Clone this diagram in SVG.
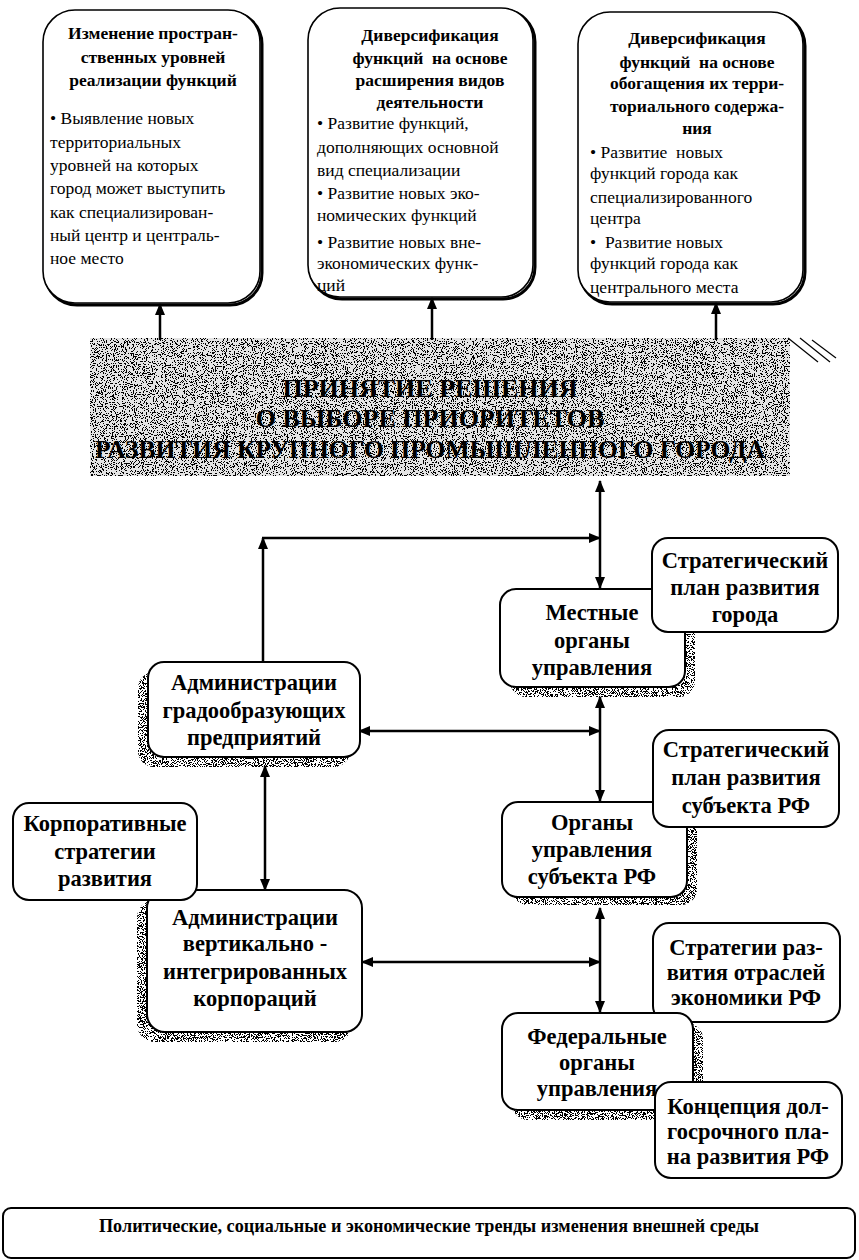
<svg xmlns="http://www.w3.org/2000/svg" width="859" height="1260" viewBox="0 0 859 1260">
<style>
  .box { fill: #fff; stroke: #000; stroke-width: 2; }
  .topbox { fill: #fff; stroke: #000; stroke-width: 1.6; }
  .topshadow { fill: none; stroke: #000; stroke-width: 3; }
  .ttl { font-family: "Liberation Serif", "Times New Roman", serif; font-weight: bold; font-size: 17.5px; fill: #000; text-anchor: middle; }
  .body { font-family: "Liberation Serif", "Times New Roman", serif; font-size: 17.5px; fill: #000; }
  .lbl { font-family: "Liberation Serif", "Times New Roman", serif; font-weight: bold; font-size: 22.5px; fill: #000; text-anchor: middle; }
  .band { font-family: "Liberation Serif", "Times New Roman", serif; font-weight: bold; font-size: 26px; fill: #000; text-anchor: middle; }
  .bot { font-family: "Liberation Serif", "Times New Roman", serif; font-weight: bold; font-size: 18px; fill: #000; text-anchor: middle; }
  .con { fill: none; stroke: #000; stroke-width: 2.5; }
  .shadow { fill: #000; filter: url(#grainDense); }
</style>
<defs>
  <marker id="ah" viewBox="0 0 12 10" refX="11" refY="5" markerWidth="12" markerHeight="10" markerUnits="userSpaceOnUse" orient="auto-start-reverse">
    <path d="M0,0 L12,5 L0,10 Z" fill="#000"/>
  </marker>
  <filter id="grain" x="0" y="0" width="100%" height="100%">
    <feTurbulence type="fractalNoise" baseFrequency="0.9" numOctaves="2" seed="4" result="n"/>
    <feColorMatrix in="n" type="matrix" values="0 0 0 0 0  0 0 0 0 0  0 0 0 0 0  -4 0 0 0 2.2" result="a"/>
    <feComponentTransfer in="a" result="t"><feFuncA type="discrete" tableValues="0 1"/></feComponentTransfer>
    <feComposite in="t" in2="SourceGraphic" operator="in"/>
  </filter>
  <filter id="grainDense" x="0" y="0" width="100%" height="100%">
    <feTurbulence type="fractalNoise" baseFrequency="1.1" numOctaves="2" seed="7" result="n"/>
    <feColorMatrix in="n" type="matrix" values="0 0 0 0 0  0 0 0 0 0  0 0 0 0 0  -4 0 0 0 2.4" result="a"/>
    <feComponentTransfer in="a" result="t"><feFuncA type="discrete" tableValues="0 1"/></feComponentTransfer>
    <feComposite in="t" in2="SourceGraphic" operator="in"/>
  </filter>
</defs>

<rect width="859" height="1260" fill="#fff"/>

<!-- Top boxes -->
<g id="node-top1">
  <rect class="topshadow" x="45" y="12" width="217" height="293" rx="32"/>
  <rect class="topbox" x="43" y="10" width="217" height="293" rx="32"/>
  <text class="ttl" x="153" y="39">Изменение простран-</text>
  <text class="ttl" x="153" y="63">ственных уровней</text>
  <text class="ttl" x="153" y="86">реализации функций</text>
  <text class="body" x="50" y="124">• Выявление новых</text>
  <text class="body" x="50" y="148">территориальных</text>
  <text class="body" x="50" y="171">уровней на которых</text>
  <text class="body" x="50" y="194">город может выступить</text>
  <text class="body" x="50" y="218">как специализирован-</text>
  <text class="body" x="50" y="241">ный центр и централь-</text>
  <text class="body" x="50" y="264">ное место</text>
</g>

<g id="node-top2">
  <rect class="topshadow" x="310" y="10" width="225" height="289" rx="32"/>
  <rect class="topbox" x="308" y="8" width="225" height="289" rx="32"/>
  <text class="ttl" x="430" y="41">Диверсификация</text>
  <text class="ttl" x="430" y="64" xml:space="preserve">функций  на основе</text>
  <text class="ttl" x="430" y="86">расширения видов</text>
  <text class="ttl" x="430" y="108">деятельности</text>
  <text class="body" x="317" y="129">• Развитие функций,</text>
  <text class="body" x="317" y="153">дополняющих основной</text>
  <text class="body" x="317" y="176">вид специализации</text>
  <text class="body" x="317" y="199">• Развитие новых эко-</text>
  <text class="body" x="317" y="221">номических функций</text>
  <text class="body" x="317" y="248">• Развитие новых вне-</text>
  <text class="body" x="317" y="269">экономических функ-</text>
  <text class="body" x="317" y="291">ций</text>
</g>

<g id="node-top3">
  <rect class="topshadow" x="580" y="14" width="225" height="290" rx="32"/>
  <rect class="topbox" x="578" y="12" width="225" height="290" rx="32"/>
  <text class="ttl" x="697" y="44">Диверсификация</text>
  <text class="ttl" x="697" y="68" xml:space="preserve">функций  на основе</text>
  <text class="ttl" x="697" y="89">обогащения их терри-</text>
  <text class="ttl" x="697" y="112">ториального содержа-</text>
  <text class="ttl" x="697" y="134">ния</text>
  <text class="body" x="590" y="158" xml:space="preserve">• Развитие  новых</text>
  <text class="body" x="590" y="179">функций города как</text>
  <text class="body" x="590" y="203">специализированного</text>
  <text class="body" x="590" y="224">центра</text>
  <text class="body" x="590" y="248" xml:space="preserve">•  Развитие новых</text>
  <text class="body" x="590" y="269">функций города как</text>
  <text class="body" x="590" y="293">центрального места</text>
</g>

<!-- Decision band -->
<g id="node-decision">
  <rect x="90" y="338" width="700" height="138" fill="#e4e4e4"/>
  <rect x="90" y="338" width="700" height="138" fill="#000" filter="url(#grain)"/>
  <g stroke="#000" stroke-width="1.2">
    <line x1="788" y1="338" x2="818" y2="362"/>
    <line x1="800" y1="338" x2="830" y2="362"/>
    <line x1="812" y1="340" x2="836" y2="358"/>
  </g>
  <text class="band" x="430" y="397">ПРИНЯТИЕ РЕШЕНИЯ</text>
  <text class="band" x="430" y="427">О ВЫБОРЕ ПРИОРИТЕТОВ</text>
  <text class="band" x="430" y="458" textLength="670" lengthAdjust="spacingAndGlyphs">РАЗВИТИЯ КРУПНОГО ПРОМЫШЛЕННОГО ГОРОДА</text>
</g>

<!-- Connectors -->
<g id="connectors">
  <line class="con" x1="160" y1="340" x2="160" y2="304" marker-end="url(#ah)"/>
  <line class="con" x1="432" y1="340" x2="432" y2="298" marker-end="url(#ah)"/>
  <line class="con" x1="716" y1="340" x2="716" y2="303" marker-end="url(#ah)"/>
  <line class="con" x1="600" y1="481" x2="600" y2="588" marker-start="url(#ah)" marker-end="url(#ah)"/>
  <line class="con" x1="263" y1="662" x2="263" y2="538" marker-end="url(#ah)"/>
  <line class="con" x1="262" y1="538" x2="600" y2="538" marker-end="url(#ah)"/>
  <line class="con" x1="359" y1="731" x2="600" y2="731" marker-start="url(#ah)" marker-end="url(#ah)"/>
  <line class="con" x1="600" y1="697" x2="600" y2="801" marker-start="url(#ah)" marker-end="url(#ah)"/>
  <line class="con" x1="265" y1="766" x2="265" y2="890" marker-start="url(#ah)" marker-end="url(#ah)"/>
  <line class="con" x1="362" y1="962" x2="600" y2="962" marker-start="url(#ah)" marker-end="url(#ah)"/>
  <line class="con" x1="600" y1="908" x2="600" y2="1012" marker-start="url(#ah)" marker-end="url(#ah)"/>
</g>

<!-- Middle nodes -->
<g id="node-local">
  <rect class="shadow" x="510" y="599" width="185" height="98" rx="16"/>
  <rect class="box" x="500" y="589" width="185" height="98" rx="16"/>
  <text class="lbl" x="592" y="620">Местные</text>
  <text class="lbl" x="592" y="648">органы</text>
  <text class="lbl" x="592" y="675">управления</text>
</g>
<g id="node-plan-city">
  <rect class="box" x="652" y="538" width="186" height="94" rx="16"/>
  <text class="lbl" x="745" y="568">Стратегический</text>
  <text class="lbl" x="745" y="595">план развития</text>
  <text class="lbl" x="745" y="622">города</text>
</g>

<g id="node-adm-city">
  <rect class="shadow" x="138" y="672" width="212" height="95" rx="16"/>
  <rect class="box" x="148" y="662" width="212" height="95" rx="16"/>
  <text class="lbl" x="254" y="690">Администрации</text>
  <text class="lbl" x="254" y="718">градообразующих</text>
  <text class="lbl" x="254" y="745">предприятий</text>
</g>

<g id="node-subject">
  <rect class="shadow" x="512" y="810" width="185" height="95" rx="16"/>
  <rect class="box" x="502" y="802" width="185" height="95" rx="16"/>
  <text class="lbl" x="592" y="830">Органы</text>
  <text class="lbl" x="592" y="857">управления</text>
  <text class="lbl" x="592" y="884">субъекта РФ</text>
</g>
<g id="node-plan-subject">
  <rect class="box" x="653" y="730" width="186" height="97" rx="16"/>
  <text class="lbl" x="746" y="757">Стратегический</text>
  <text class="lbl" x="746" y="785">план развития</text>
  <text class="lbl" x="746" y="813">субъекта РФ</text>
</g>

<g id="node-adm-corp">
  <rect class="shadow" x="137" y="900" width="215" height="142" rx="18"/>
  <rect class="box" x="147" y="890" width="215" height="142" rx="18"/>
  <text class="lbl" x="255" y="925">Администрации</text>
  <text class="lbl" x="255" y="951">вертикально -</text>
  <text class="lbl" x="255" y="979">интегрированных</text>
  <text class="lbl" x="255" y="1006">корпораций</text>
</g>
<g id="node-corp-strat">
  <rect class="box" x="13" y="803" width="184" height="97" rx="16"/>
  <text class="lbl" x="105" y="831">Корпоративные</text>
  <text class="lbl" x="105" y="859">стратегии</text>
  <text class="lbl" x="105" y="886">развития</text>
</g>

<g id="node-branch-strat">
  <rect class="box" x="653" y="923" width="187" height="99" rx="16"/>
  <text class="lbl" x="746" y="955">Стратегии раз-</text>
  <text class="lbl" x="746" y="980">вития отраслей</text>
  <text class="lbl" x="746" y="1005">экономики РФ</text>
</g>

<g id="node-federal">
  <rect class="shadow" x="512" y="1023" width="191" height="97" rx="16"/>
  <rect class="box" x="502" y="1013" width="191" height="97" rx="16"/>
  <text class="lbl" x="597" y="1044">Федеральные</text>
  <text class="lbl" x="597" y="1070">органы</text>
  <text class="lbl" x="597" y="1096">управления</text>
</g>
<g id="node-concept">
  <rect class="box" x="655" y="1082" width="187" height="96" rx="16"/>
  <text class="lbl" x="748" y="1114">Концепция дол-</text>
  <text class="lbl" x="748" y="1139">госрочного пла-</text>
  <text class="lbl" x="748" y="1164">на развития РФ</text>
</g>

<g id="node-trends">
  <rect class="box" x="3" y="1208" width="852" height="50" rx="8"/>
  <text class="bot" x="429" y="1232" textLength="660" lengthAdjust="spacingAndGlyphs">Политические, социальные и экономические тренды изменения внешней среды</text>
</g>
</svg>
